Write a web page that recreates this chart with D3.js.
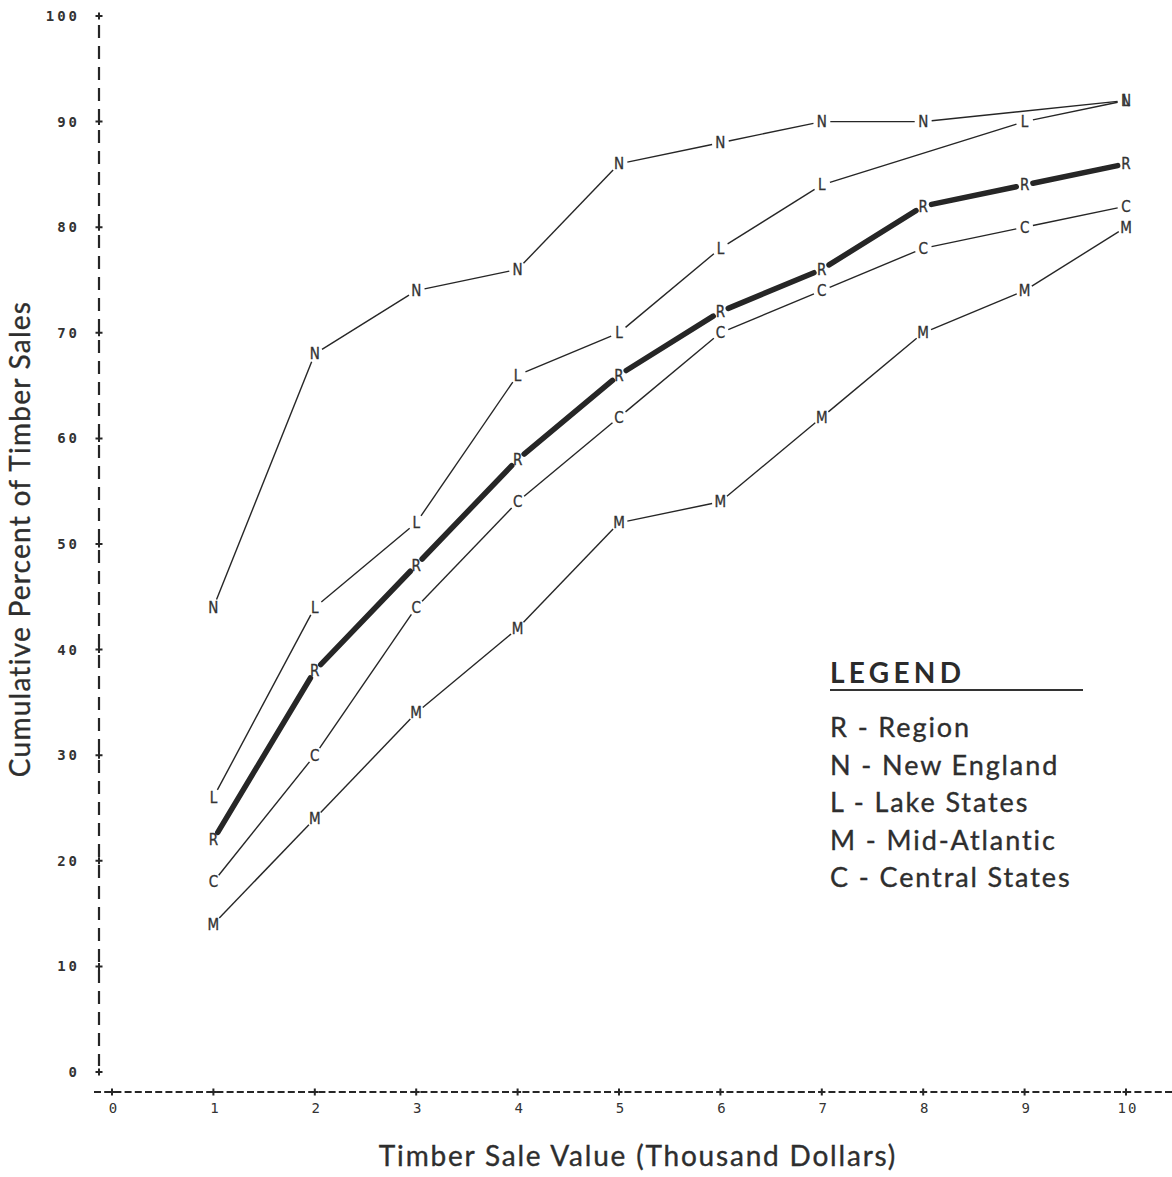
<!DOCTYPE html>
<html>
<head>
<meta charset="utf-8">
<script src="https://cdn.jsdelivr.net/npm/d3@7"></script>
<style>
  html, body { margin: 0; padding: 0; background: #fff; }
  svg { display: block; }
</style>
</head>
<body>
<svg id="chart" width="1172" height="1177"></svg>
<script>
// Cumulative percent of timber sales by sale value (thousand dollars)
const saleValues = [1, 2, 3, 4, 5, 6, 7, 8, 9, 10];

// null = no plotted point at that sale value
const region        = [22, 38, 48, 58, 66, 72, 76, 82, 84, 86];
const newEngland    = [44, 68, 74, 76, 86, 88, 90, 90, null, 92];
const lakeStates    = [26, 44, 52, 66, 70, 78, 84, null, 90, 92];
const midAtlantic   = [14, 24, 34, 42, 52, 54, 62, 70, 74, 80];
const centralStates = [18, 30, 44, 54, 62, 70, 74, 78, 80, 82];

const seriesCodes = ["R", "N", "L", "M", "C"];
const seriesNames = ["Region", "New England", "Lake States", "Mid-Atlantic", "Central States"];
const seriesValues = [region, newEngland, lakeStates, midAtlantic, centralStates];

const xTicks = [0, 1, 2, 3, 4, 5, 6, 7, 8, 9, 10];
const yTicks = [0, 10, 20, 30, 40, 50, 60, 70, 80, 90, 100];

const svg = d3.select("#chart");
const ink = "#262626";
const textInk = "#2e2e2e";

const x = d3.scaleLinear().domain([0, 10]).range([112, 1126]);
const y = d3.scaleLinear().domain([0, 100]).range([1072, 16]);

const axisY = 1092;   // horizontal axis line sits below the zero tick
const axisX = 99;

// ---- dashed axes ----
svg.append("line")
  .attr("x1", 94).attr("x2", 1172).attr("y1", axisY).attr("y2", axisY)
  .attr("stroke", ink).attr("stroke-width", 1.8)
  .attr("stroke-dasharray", "7,3.2");

svg.append("line")
  .attr("x1", axisX).attr("x2", axisX).attr("y1", y(100) + 9).attr("y2", y(0) - 6)
  .attr("stroke", ink).attr("stroke-width", 2.2)
  .attr("stroke-dasharray", "13,8");

const plus = (cx, cy, s) => `M${cx - s},${cy}H${cx + s}M${cx},${cy - s}V${cy + s}`;

// y ticks
svg.append("g").selectAll("path").data(yTicks).join("path")
  .attr("d", d => plus(axisX, y(d), 3.5))
  .attr("stroke", ink).attr("stroke-width", 2);

svg.append("g").selectAll("text").data(yTicks).join("text")
  .attr("x", 80).attr("y", d => y(d) + 5)
  .attr("text-anchor", "end")
  .attr("font-family", "'DejaVu Sans Mono', monospace")
  .attr("font-size", 14).attr("font-weight", "bold")
  .attr("letter-spacing", 3)
  .attr("fill", "#333")
  .text(d => d);

// x ticks
svg.append("g").selectAll("path").data(xTicks).join("path")
  .attr("d", d => plus(x(d), axisY, 3.5))
  .attr("stroke", ink).attr("stroke-width", 2);

svg.append("g").selectAll("text").data(xTicks).join("text")
  .attr("x", d => x(d) + 2).attr("y", axisY + 21)
  .attr("text-anchor", "middle")
  .attr("font-family", "'DejaVu Sans Mono', monospace")
  .attr("font-size", 14)
  .attr("letter-spacing", 2)
  .attr("fill", "#333")
  .text(d => d);

// ---- axis titles ----
svg.append("text")
  .attr("transform", `translate(30,${y(50) - 5}) rotate(-90)`)
  .attr("text-anchor", "middle")
  .attr("font-family", "Lato, 'Open Sans', sans-serif")
  .attr("font-size", 28)
  .attr("letter-spacing", 1.25)
  .attr("fill", textInk)
  .attr("stroke", textInk).attr("stroke-width", 0.35)
  .text("Cumulative Percent of Timber Sales");

svg.append("text")
  .attr("x", 638).attr("y", 1166)
  .attr("text-anchor", "middle")
  .attr("font-family", "Lato, 'Open Sans', sans-serif")
  .attr("font-size", 28)
  .attr("letter-spacing", 1.8)
  .attr("fill", textInk)
  .attr("stroke", textInk).attr("stroke-width", 0.35)
  .text("Timber Sale Value (Thousand Dollars)");

// ---- series: segments between letter markers, leaving a gap at each letter ----
const gap = 8.5;
const plot = svg.append("g");

seriesValues.forEach((vals, i) => {
  const pts = saleValues
    .map((v, j) => ({ v, p: vals[j] }))
    .filter(d => d.p !== null)
    .map(d => [x(d.v), y(d.p)]);

  const segs = d3.pairs(pts).map(([a, b]) => {
    const dx = b[0] - a[0], dy = b[1] - a[1];
    const len = Math.hypot(dx, dy);
    const ux = dx / len, uy = dy / len;
    return [a[0] + ux * gap, a[1] + uy * gap, b[0] - ux * gap, b[1] - uy * gap];
  });

  const thick = seriesCodes[i] === "R";
  plot.append("g").selectAll("line").data(segs).join("line")
    .attr("x1", d => d[0]).attr("y1", d => d[1])
    .attr("x2", d => d[2]).attr("y2", d => d[3])
    .attr("stroke", ink)
    .attr("stroke-width", thick ? 5.5 : 1.4)
    .attr("stroke-linecap", thick ? "round" : "butt");

  plot.append("g").selectAll("text").data(pts).join("text")
    .attr("x", d => d[0]).attr("y", d => d[1] + 5.5)
    .attr("text-anchor", "middle")
    .attr("font-family", "'DejaVu Sans Condensed', 'Liberation Sans Narrow', sans-serif")
    .attr("font-size", 15)
    .attr("fill", "#333")
    .attr("stroke", "#333").attr("stroke-width", 0.3)
    .text(seriesCodes[i]);
});

// ---- legend ----
const legend = svg.append("g").attr("transform", "translate(830,0)");
legend.append("text")
  .attr("x", 0).attr("y", 683)
  .attr("font-family", "Lato, 'Open Sans', sans-serif")
  .attr("font-size", 28).attr("font-weight", "bold")
  .attr("letter-spacing", 4.3)
  .attr("fill", "#2b2b2b")
  .text("LEGEND");
legend.append("line")
  .attr("x1", 0).attr("x2", 253).attr("y1", 690).attr("y2", 690)
  .attr("stroke", "#333").attr("stroke-width", 2);

legend.selectAll("text.entry").data(seriesCodes).join("text")
  .attr("class", "entry")
  .attr("x", 0).attr("y", (d, i) => 737 + i * 37.5)
  .attr("font-family", "Lato, 'Open Sans', sans-serif")
  .attr("font-size", 27)
  .attr("letter-spacing", 1.9)
  .attr("fill", textInk)
  .attr("stroke", textInk).attr("stroke-width", 0.35)
  .text((d, i) => `${d} - ${seriesNames[i]}`);
</script>
</body>
</html>
